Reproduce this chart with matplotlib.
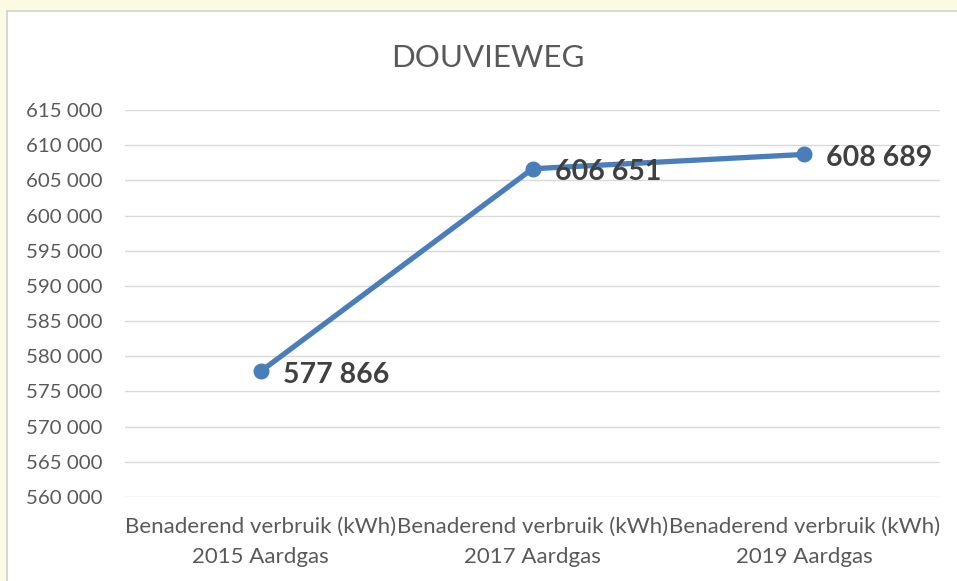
import matplotlib
matplotlib.use("Agg")
import matplotlib.pyplot as plt
from matplotlib.patches import Rectangle
from matplotlib.ticker import FuncFormatter, MultipleLocator

categories = ["Benaderend verbruik (kWh)\n2015 Aardgas",
              "Benaderend verbruik (kWh)\n2017 Aardgas",
              "Benaderend verbruik (kWh)\n2019 Aardgas"]
values = [577866, 606651, 608689]
title = "DOUVIEWEG"
y_min, y_max, y_step = 560000, 615000, 5000

plt.rcParams['font.family'] = ['Lato', 'DejaVu Sans']

W, H = 957, 581
fig = plt.figure(figsize=(W / 100, H / 100), dpi=100)
fig.patch.set_facecolor('#fbfbe4')
bg = fig.add_axes([0, 0, 1, 1], zorder=-10)
bg.set_axis_off()
bg.set_xlim(0, W)
bg.set_ylim(H, 0)
bg.add_patch(Rectangle((7, 11), W, H, facecolor='white', edgecolor='#d0d0d0', linewidth=1.2))

ax = fig.add_axes([125 / W, (H - 497) / H, (940 - 125) / W, (497 - 110) / H])
ax.set_facecolor('none')
x = list(range(len(categories)))
ax.plot(x, values, color='#4a7ebb', linewidth=3.8, marker='o', markersize=10.5,
        solid_capstyle='round', zorder=3)
for xi, v in zip(x, values):
    ax.annotate(f"{v:,}".replace(",", " "), (xi, v), xytext=(16, -2.5), textcoords='offset points',
                ha='left', va='center', fontsize=20.5, fontweight='bold', color='#404040', zorder=4)

ax.set_xlim(-0.5, len(categories) - 0.5)
ax.set_ylim(y_min, y_max)
ax.yaxis.set_major_locator(MultipleLocator(y_step))
ax.yaxis.set_major_formatter(FuncFormatter(lambda v, p: f"{int(v):,}".replace(",", " ")))
ax.set_xticks(x)
ax.set_xticklabels(categories, fontsize=16, color='#595959', linespacing=1.65)
ax.tick_params(axis='y', labelsize=14.7, colors='#595959', length=0, pad=16)
ax.tick_params(axis='x', length=0, pad=14)
ax.grid(axis='y', color='#d9d9d9', linewidth=1.0)
ax.set_axisbelow(True)
for s in ax.spines.values():
    s.set_visible(False)

fig.text(488 / W, 1 - 58 / H, title, ha='center', va='center', fontsize=22.5, color='#595959')

fig.savefig('out.png', dpi=100, facecolor=fig.get_facecolor())
